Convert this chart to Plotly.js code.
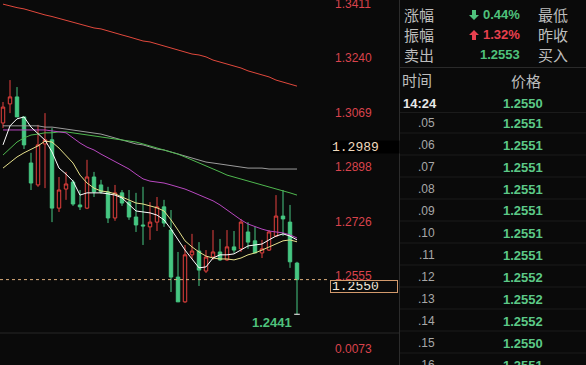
<!DOCTYPE html>
<html><head><meta charset="utf-8">
<script src="https://cdn.plot.ly/plotly-3.0.1.min.js"></script>
<style>html,body{margin:0;padding:0;background:#0a0a0a;overflow:hidden}#chart{width:586px;height:365px}</style>
</head><body><div id="chart"></div>
<script>
// ---- candle data ----
const opens  = [1.3043,1.3103,1.3125,1.3062,1.2917,1.2848,1.2977,1.2990,1.2775,1.2835,1.2857,1.2785,1.2775,1.2873,1.2848,1.2826,1.2744,1.2823,1.2794,1.2747,1.2722,1.2716,1.2731,1.2779,1.2706,1.2558,1.2480,1.2628,1.2640,1.2577,1.2621,1.2637,1.2612,1.2653,1.2647,1.2700,1.2672,1.2634,1.2643,1.2687,1.2750,1.2731,1.2602];
const highs  = [1.3109,1.3178,1.3156,1.3062,1.2949,1.3037,1.3074,1.3027,1.2873,1.2889,1.2864,1.2832,1.2927,1.2889,1.2864,1.2842,1.2848,1.2832,1.2832,1.2823,1.2842,1.2794,1.2810,1.2801,1.2769,1.2637,1.2659,1.2694,1.2668,1.2643,1.2706,1.2678,1.2706,1.2703,1.2741,1.2731,1.2716,1.2675,1.2706,1.2816,1.2832,1.2785,1.2606];
const lows   = [1.3027,1.3074,1.3062,1.2961,1.2832,1.2842,1.2838,1.2731,1.2763,1.2801,1.2782,1.2769,1.2772,1.2810,1.2820,1.2728,1.2735,1.2782,1.2738,1.2700,1.2659,1.2675,1.2703,1.2716,1.2511,1.2480,1.2477,1.2615,1.2530,1.2571,1.2612,1.2609,1.2609,1.2634,1.2637,1.2647,1.2634,1.2618,1.2640,1.2684,1.2687,1.2587,1.2441];
const closes = [1.3093,1.3125,1.3062,1.2974,1.2854,1.2974,1.2990,1.2775,1.2832,1.2851,1.2788,1.2779,1.2873,1.2826,1.2826,1.2744,1.2823,1.2791,1.2747,1.2722,1.2719,1.2731,1.2779,1.2728,1.2558,1.2480,1.2628,1.2640,1.2580,1.2621,1.2637,1.2612,1.2653,1.2643,1.2731,1.2668,1.2634,1.2647,1.2700,1.2750,1.2741,1.2606,1.2550];

// ---- moving-average lines ----
const maWhite  = [1.2974,1.3034,1.3056,1.3062,1.3030,1.3008,1.2989,1.2952,1.2901,1.2882,1.2860,1.2816,1.2823,1.2823,1.2823,1.2820,1.2816,1.2807,1.2788,1.2766,1.2763,1.2760,1.2753,1.2738,1.2709,1.2675,1.2643,1.2615,1.2587,1.2590,1.2618,1.2628,1.2628,1.2631,1.2643,1.2656,1.2659,1.2662,1.2675,1.2687,1.2694,1.2687,1.2675];
const maYellow = [1.2901,1.2920,1.2936,1.2949,1.2961,1.2971,1.2986,1.2983,1.2964,1.2942,1.2917,1.2879,1.2854,1.2838,1.2829,1.2826,1.2820,1.2810,1.2801,1.2791,1.2788,1.2782,1.2776,1.2766,1.2738,1.2706,1.2672,1.2653,1.2637,1.2624,1.2618,1.2615,1.2615,1.2612,1.2618,1.2628,1.2634,1.2643,1.2653,1.2662,1.2672,1.2675,1.2669];
const maPurple = [1.3021,1.3021,1.3021,1.3021,1.3021,1.3021,1.3021,1.3018,1.3015,1.3012,1.2996,1.2980,1.2967,1.2958,1.2945,1.2933,1.2920,1.2908,1.2898,1.2882,1.2867,1.2860,1.2857,1.2854,1.2848,1.2842,1.2835,1.2826,1.2816,1.2807,1.2798,1.2785,1.2769,1.2753,1.2738,1.2725,1.2716,1.2709,1.2703,1.2700,1.2697,1.2691,1.2681];
const maGray   = [1.3034,1.3034,1.3034,1.3034,1.3034,1.3034,1.3030,1.3030,1.3027,1.3024,1.3021,1.3018,1.3015,1.3012,1.3008,1.3002,1.2996,1.2989,1.2983,1.2977,1.2974,1.2967,1.2961,1.2958,1.2952,1.2945,1.2939,1.2933,1.2927,1.2920,1.2917,1.2914,1.2911,1.2908,1.2905,1.2901,1.2901,1.2901,1.2898,1.2898,1.2898,1.2898,1.2898];
const maGreen  = [1.2942,1.2964,1.2983,1.2996,1.3005,1.3008,1.3012,1.3012,1.3015,1.3015,1.3012,1.3008,1.3005,1.3002,1.2999,1.2996,1.2993,1.2989,1.2986,1.2983,1.2977,1.2971,1.2964,1.2958,1.2952,1.2945,1.2936,1.2927,1.2917,1.2908,1.2898,1.2889,1.2879,1.2873,1.2867,1.2860,1.2854,1.2848,1.2842,1.2835,1.2829,1.2823,1.2816];
const maRed    = [1.3417,1.3411,1.3406,1.3402,1.3395,1.3389,1.3383,1.3378,1.3372,1.3367,1.3361,1.3354,1.3348,1.3342,1.3339,1.3332,1.3326,1.3320,1.3314,1.3307,1.3301,1.3298,1.3292,1.3285,1.3279,1.3273,1.3266,1.3260,1.3257,1.3251,1.3241,1.3235,1.3229,1.3222,1.3216,1.3207,1.3200,1.3194,1.3188,1.3178,1.3172,1.3166,1.3159];

// ---- axis labels ----
const axisTickValues = [1.3411,1.3240,1.3069,1.2898,1.2726,1.2555];
const axisTickLabels = ['1.3411','1.3240','1.3069','1.2898','1.2726','1.2555'];
const markerPrice = 1.2989;
const lastPrice = 1.2550;
const lowPrice = 1.2441;
const subPanelLabel = '0.0073';

// ---- right panel ----
const statLeft   = ['涨幅','振幅','卖出'];
const statDir    = ['down','up',''];
const statValue  = ['0.44%','1.32%','1.2553'];
const statColor  = ['#4fc27c','#e8404e','#4fc27c'];
const statRight  = ['最低','昨收','买入'];
const tickHeader = ['时间','价格'];
const tickTimes  = ['14:24','.05','.06','.07','.08','.09','.10','.11','.12','.13','.14','.15','.16'];
const tickPrices = ['1.2550','1.2551','1.2551','1.2551','1.2551','1.2551','1.2551','1.2551','1.2552','1.2552','1.2552','1.2550','1.2551'];

const W = 586, H = 365;
const px = x => x / W;
const py = y => 1 - y / H;
const idx = closes.map((_, i) => i);

const lineTrace = (y, color) => ({type:'scatter', mode:'lines', x: idx, y: y,
  line:{color: color, width: 1}, hoverinfo:'skip', xaxis:'x', yaxis:'y'});

const traces = [
  lineTrace(maRed, '#e0483c'),
  lineTrace(maGray, '#9c9c9c'),
  lineTrace(maGreen, '#4fb84f'),
  lineTrace(maPurple, '#b848c0'),
  {type:'candlestick', x: idx, open: opens, high: highs, low: lows, close: closes,
   increasing:{line:{color:'#e4413e', width:1}, fillcolor:'#0a0a0a'},
   decreasing:{line:{color:'#46c782', width:1}, fillcolor:'#46c782'},
   whiskerwidth: 0, hoverinfo:'skip', xaxis:'x', yaxis:'y'},
  lineTrace(maYellow, '#e6e08c'),
  lineTrace(maWhite, '#ffffff')
];

const red = '#d9434c';
const ann = [];
axisTickValues.forEach((v, i) => ann.push({xref:'paper', yref:'y', x: px(333), y: v, xanchor:'left', yanchor:'middle',
  yshift: 2, text: axisTickLabels[i], showarrow:false, font:{family:'Liberation Sans, Arial', size:12, color: red}}));
ann.push({xref:'paper', yref:'paper', x: px(333), y: py(349), xanchor:'left', yanchor:'middle', text: subPanelLabel,
  showarrow:false, font:{family:'Liberation Sans, Arial', size:12, color: red}});
// boxes
ann.push({xref:'paper', yref:'y', x: px(330), y: markerPrice, xanchor:'left', yanchor:'top', yshift: 0,
  text: markerPrice.toFixed(4), showarrow:false, bgcolor:'#000000', width: 66, height: 10, align:'left', borderpad: 1,
  font:{family:'Liberation Mono, DejaVu Sans Mono', size:13, color:'#efd9bd'}});
ann.push({xref:'paper', yref:'y', x: px(330), y: lastPrice, xanchor:'left', yanchor:'top', yshift: 0,
  text: lastPrice.toFixed(4), showarrow:false, bgcolor:'#0a0a0a', bordercolor:'#d39a6c', borderwidth:1, borderpad:1,
  width: 64, height: 9, align:'left',
  font:{family:'Liberation Mono, DejaVu Sans Mono', size:13, color:'#f2e8da'}});
// low label
ann.push({xref:'x', yref:'y', x: 41.6, y: lowPrice, xanchor:'right', yanchor:'top', yshift: 1,
  text: lowPrice.toFixed(4), showarrow:false, font:{family:'Liberation Sans, Arial', size:13, weight:700, color:'#4fc27c'}});

const shapes = [
  {type:'line', xref:'paper', yref:'y', x0: 0, x1: px(330), y0: lastPrice, y1: lastPrice, line:{color:'#dcae7c', width:1, dash:'3px,3px'}},
  {type:'line', xref:'x', yref:'y', x0: 41.6, x1: 42.4, y0: lowPrice, y1: lowPrice, line:{color:'#ffffff', width:1}},
  {type:'line', xref:'paper', yref:'paper', x0: 0, x1: px(399), y0: py(333), y1: py(333), line:{color:'#262626', width:1}},
  {type:'line', xref:'paper', yref:'paper', x0: px(399.5), x1: px(399.5), y0: 0, y1: 1, line:{color:'#2c2c2c', width:1}},
  {type:'line', xref:'paper', yref:'paper', x0: px(400), x1: 1, y0: py(67.5), y1: py(67.5), line:{color:'#2a2a2a', width:1}}
];

// arrow glyph as a filled path
function arrowPath(cx, cy, dir) {
  const s = dir === 'down' ? 1 : -1;
  const pts = [[cx-2, cy-5*s],[cx+2, cy-5*s],[cx+2, cy],[cx+5, cy],[cx, cy+5*s],[cx-5, cy],[cx-2, cy]];
  return 'M' + pts.map(p => px(p[0]) + ',' + py(p[1])).join(' L') + ' Z';
}

// right panel header stats
const cjk = 'Noto Sans CJK SC';
statLeft.forEach((t, i) => {
  const y = 15 + 20 * i;
  ann.push({xref:'paper', yref:'paper', x: px(402), y: py(y), xanchor:'left', yanchor:'middle', text: t, showarrow:false,
    font:{family: cjk, size:15, color:'#bdbdbd'}});
  ann.push({xref:'paper', yref:'paper', x: px(536), y: py(y), xanchor:'left', yanchor:'middle', text: statRight[i], showarrow:false,
    font:{family: cjk, size:15, color:'#bdbdbd'}});
  ann.push({xref:'paper', yref:'paper', x: px(522), y: py(y), xanchor:'right', yanchor:'middle', text: statValue[i], showarrow:false,
    font:{family:'Liberation Sans, Arial', size:13, weight:700, color: statColor[i]}});
  if (statDir[i]) shapes.push({type:'path', xref:'paper', yref:'paper', path: arrowPath(474, y, statDir[i]),
    fillcolor: statColor[i], line:{width:0}});
});
ann.push({xref:'paper', yref:'paper', x: px(400), y: py(79), xanchor:'left', yanchor:'middle', text: tickHeader[0], showarrow:false,
  font:{family: cjk, size:15, color:'#bdbdbd'}});
ann.push({xref:'paper', yref:'paper', x: px(526), y: py(80), xanchor:'center', yanchor:'middle', text: tickHeader[1], showarrow:false,
  font:{family: cjk, size:15, color:'#bdbdbd'}});
tickTimes.forEach((t, i) => {
  const y = i === 0 ? 103 : 101 + 22 * i;
  ann.push({xref:'paper', yref:'paper', x: i === 0 ? px(401) : px(437), y: py(y), xanchor: i === 0 ? 'left' : 'right', yanchor:'middle',
    text: t, showarrow:false,
    font: i === 0 ? {family:'Liberation Sans, Arial', size:13, weight:700, color:'#e8e8e8'} : {family:'Liberation Sans, Arial', size:12, color:'#a8a8a8'}});
  ann.push({xref:'paper', yref:'paper', x: px(545), y: py(y), xanchor:'right', yanchor:'middle', text: tickPrices[i], showarrow:false,
    font:{family:'Liberation Sans, Arial', size:13, weight:700, color:'#5cc987'}});
});
for (let k = 0; k < 12; k++) {
  const y = 112.5 + 22 * k - (k === 0 ? 0 : 1.5);
  shapes.push({type:'line', xref:'paper', yref:'paper', x0: px(400), x1: 1, y0: py(y), y1: py(y), line:{color:'#1b1b1b', width:1}});
}

const layout = {
  width: W, height: H, margin:{l:0, r:0, t:0, b:0},
  paper_bgcolor:'#0a0a0a', plot_bgcolor:'#0a0a0a', showlegend:false,
  xaxis:{domain:[0, px(330)], range:[-3/7, 327/7], visible:false, fixedrange:true, rangeslider:{visible:false}},
  yaxis:{domain:[py(333), 1], range:[1.2382, 1.3430], visible:false, fixedrange:true},
  annotations: ann, shapes: shapes
};
Plotly.newPlot('chart', traces, layout, {staticPlot:true, displayModeBar:false});
</script></body></html>
